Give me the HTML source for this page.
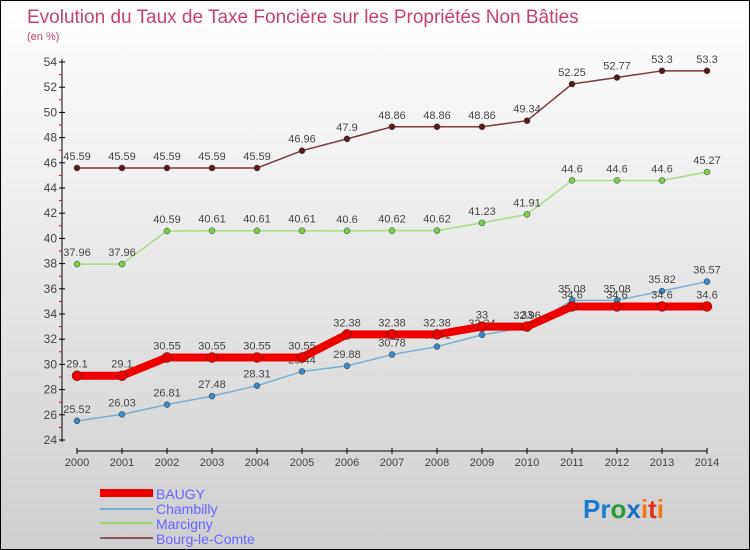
<!DOCTYPE html>
<html><head><meta charset="utf-8"><style>
body{margin:0}
#c{width:750px;height:550px;position:relative;box-sizing:border-box;border:1px solid #000;background:linear-gradient(#fff,#cfcfcf);font-family:"Liberation Sans",sans-serif;overflow:hidden}
</style></head><body>
<div id="c">
<svg id="s" width="748" height="548" xmlns="http://www.w3.org/2000/svg" style="position:absolute;left:0;top:0">
<text x="26" y="22" font-size="19" fill="#c8416e">Evolution du Taux de Taxe Foncière sur les Propriétés Non Bâties</text>
<text x="26" y="39" font-size="11" fill="#c8416e">(en %)</text>
<g id="axes"></g><g id="series"></g>
<g>
<rect x="99" y="488" width="53" height="8" fill="#e00"/>
<text x="155" y="498" font-size="14" fill="#66f">BAUGY</text>
<rect x="99" y="507" width="53" height="2" fill="#7aaed0"/>
<text x="155" y="513" font-size="14" fill="#66f">Chambilly</text>
<rect x="99" y="521" width="53" height="2" fill="#9ed57a"/>
<text x="155" y="528" font-size="14" fill="#66f">Marcigny</text>
<rect x="99" y="536" width="53" height="2" fill="#8a5a5a"/>
<text x="155" y="543" font-size="14" fill="#66f">Bourg-le-Comte</text>
</g>
<g font-size="26" font-weight="bold">
<text x="582" y="517"><tspan fill="#1a7ad0">Pr</tspan><tspan fill="#2a9a3a">o</tspan><tspan fill="#1a6fc0">x</tspan><tspan fill="#f07b10">i</tspan><tspan fill="#e03020">t</tspan><tspan fill="#f07b10">i</tspan></text>
</g>
</svg>
</div>
<script>
const years=[2000,2001,2002,2003,2004,2005,2006,2007,2008,2009,2010,2011,2012,2013,2014];
const yTicks=[24,26,28,30,32,34,36,38,40,42,44,46,48,50,52,54];
const baugy=[29.1,29.1,30.55,30.55,30.55,30.55,32.38,32.38,32.38,33,33,34.6,34.6,34.6,34.6];
const chambilly=[25.52,26.03,26.81,27.48,28.31,29.44,29.88,30.78,31.41,32.34,32.96,35.08,35.08,35.82,36.57];
const marcigny=[37.96,37.96,40.59,40.61,40.61,40.61,40.6,40.62,40.62,41.23,41.91,44.6,44.6,44.6,45.27];
const bourg=[45.59,45.59,45.59,45.59,45.59,46.96,47.9,48.86,48.86,48.86,49.34,52.25,52.77,53.3,53.3];
const NS="http://www.w3.org/2000/svg";
const xS=i=>76+i*45;
const yS=v=>61+(54-v)*12.6;
function mk(t,a,p){const e=document.createElementNS(NS,t);for(const k in a)e.setAttribute(k,a[k]);p.appendChild(e);return e;}
const ax=document.getElementById('axes');
let e=mk('line',{x1:61,y1:58,x2:61,y2:441,stroke:'#000'},ax);


e=mk('line',{x1:76,y1:450,x2:706,y2:450,stroke:'#000'},ax);


yTicks.forEach(v=>{
 mk('line',{x1:58,y1:yS(v),x2:64,y2:yS(v),stroke:'#000'},ax);
 if(v<54) mk('line',{x1:58,y1:yS(v+1),x2:61,y2:yS(v+1),stroke:'#e00'},ax);
 const t=mk('text',{x:56,y:yS(v)+4,'font-size':12,fill:'#444','text-anchor':'end'},ax);
 t.textContent=v;
 
 
});
years.forEach((y,i)=>{
 mk('line',{x1:xS(i),y1:447,x2:xS(i),y2:453,stroke:'#000'},ax);
 const t=mk('text',{x:xS(i),y:465,'font-size':11,fill:'#444','text-anchor':'middle'},ax);
 t.textContent=y;
 
 
});
const sg=document.getElementById('series');
function series(vals,color,w,r,name,dot){
 const g=mk('g',{},sg);
 
 
 const p=mk('polyline',{points:vals.map((v,i)=>xS(i)+','+yS(v)).join(' '),fill:'none',stroke:color,'stroke-width':w},g);
 
 
 vals.forEach((v,i)=>{
  const c=mk('circle',{cx:xS(i),cy:yS(v),r:r,fill:dot,stroke:'#333','stroke-width':0.5},g);
  
  
  const t=mk('text',{x:xS(i),y:yS(v)-8,'font-size':11,fill:'#444','text-anchor':'middle'},g);
  t.textContent=v;
  
  
 });
}
series(bourg,'#7a3a3a',1.5,3,'bourg','#5a1a1a');
series(marcigny,'#a8dc88',1.5,3,'marcigny','#7ccf4a');
series(chambilly,'#7aaed0',1.5,3,'chambilly','#3a8ac8');
series(baugy,'#e00',8,5,'baugy','#e00');
</script>
</body></html>
